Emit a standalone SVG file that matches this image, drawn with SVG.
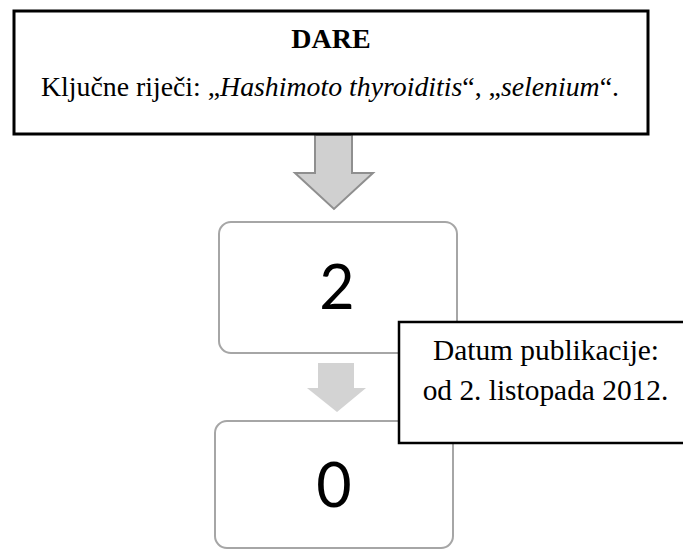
<svg xmlns="http://www.w3.org/2000/svg" width="683" height="550" viewBox="0 0 683 550">
<style>
.serif{font-family:"Liberation Serif","Times New Roman",serif;fill:#000}
.num{font-family:Lato,"Open Sans",sans-serif;font-size:61px;fill:#000;text-anchor:middle}
.rbox{fill:#fff;stroke:#a6a6a6;stroke-width:2}
.sbox{fill:#fff;stroke:#000}
</style>
<rect width="683" height="550" fill="#fff"/>
<g id="connectors">
<path d="M315,135 H352 V173 H373 L334,209 L295,173 H315 Z" fill="#d0d0d0" stroke="#8f8f8f" stroke-width="2" stroke-linejoin="miter"/>
<path d="M318,363 H354 V388 H366 L337,412 L307,388 H318 Z" fill="#d3d3d3"/>
</g>
<g id="node-2">
<rect class="rbox" x="219" y="222" width="238" height="131" rx="12"/>
<text class="num" x="337" y="309">2</text>
</g>
<g id="node-0">
<rect class="rbox" x="215" y="421" width="238" height="127" rx="12"/>
<text class="num" x="334" y="507">0</text>
</g>
<g id="node-dare">
<rect class="sbox" x="14" y="11" width="634" height="123" stroke-width="3"/>
<text class="serif" x="331" y="48" font-size="28" font-weight="bold" text-anchor="middle">DARE</text>
<text class="serif" x="330" y="96" font-size="27.8" text-anchor="middle">Ključne riječi: „<tspan font-style="italic">Hashimoto thyroiditis</tspan>“, „<tspan font-style="italic">selenium</tspan>“.</text>
</g>
<g id="node-datum">
<rect class="sbox" x="399" y="322" width="300" height="121" stroke-width="2.5"/>
<text class="serif" x="546" y="360" font-size="29.4" text-anchor="middle">Datum publikacije:</text>
<text class="serif" x="545.5" y="400" font-size="29.4" text-anchor="middle">od 2. listopada 2012.</text>
</g>
</svg>
